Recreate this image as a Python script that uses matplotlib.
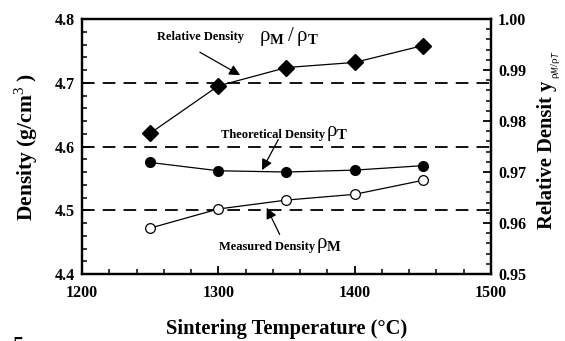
import matplotlib
matplotlib.use("Agg")
import matplotlib.pyplot as plt
from matplotlib.ticker import MultipleLocator

plt.rcParams['font.family'] = ['Liberation Serif', 'DejaVu Serif']
plt.rcParams['mathtext.fontset'] = 'custom'
plt.rcParams['mathtext.rm'] = 'Liberation Serif'
plt.rcParams['mathtext.bf'] = 'Liberation Serif:bold'

# data
temperature = [1250, 1300, 1350, 1400, 1450]
theoretical = [4.575, 4.562, 4.560, 4.563, 4.570]
measured = [4.472, 4.502, 4.516, 4.525, 4.547]
relative = [0.9776, 0.9869, 0.9905, 0.9915, 0.9948]
ref_levels = [4.5, 4.6, 4.7]

fig = plt.figure(figsize=(5.65, 3.41), dpi=100)
ax = fig.add_axes([0.1451, 0.1965, 0.7239, 0.7475])
ax2 = ax.twinx()

for lv in ref_levels:
    ax.axhline(lv, color='black', lw=1.3, ls=(0, (7, 4.5)), zorder=1)

ax.plot(temperature, theoretical, '-o', color='black', lw=0.9, ms=7,
        mfc='black', mec='black', zorder=3)
ax.plot(temperature, measured, '-o', color='black', lw=0.9, ms=7,
        mfc='white', mec='black', mew=0.9, zorder=3)
ax2.plot(temperature, relative, '-D', color='black', lw=0.9, ms=8,
         mfc='black', mec='black', zorder=3)

ax.set_xlim(1200, 1500)
ax.set_ylim(4.4, 4.8)
ax2.set_ylim(0.95, 1.00)

ax.xaxis.set_major_locator(MultipleLocator(100))
ax.xaxis.set_minor_locator(MultipleLocator(20))
ax.yaxis.set_major_locator(MultipleLocator(0.1))
ax.yaxis.set_minor_locator(MultipleLocator(0.02))
ax2.yaxis.set_major_locator(MultipleLocator(0.01))
ax2.yaxis.set_minor_locator(MultipleLocator(0.002))
ax.yaxis.set_major_formatter(matplotlib.ticker.FormatStrFormatter('%.1f'))
ax2.yaxis.set_major_formatter(matplotlib.ticker.FormatStrFormatter('%.2f'))

for a in (ax, ax2):
    for s in a.spines.values():
        s.set_linewidth(1.6)
ax.tick_params(axis='both', which='major', direction='in', length=6, width=1.3,
               labelsize=11.5, pad=5)
ax.tick_params(axis='both', which='minor', direction='in', length=3.5, width=1.1)
ax.tick_params(axis='x', top=False, which='both')
ax.tick_params(axis='x', pad=8)
ax2.tick_params(axis='y', which='major', direction='in', length=6, width=1.3,
                labelsize=11.5, pad=5)
ax2.tick_params(axis='y', which='minor', direction='in', length=3.5, width=1.1)
for lab in ax.get_xticklabels() + ax.get_yticklabels() + ax2.get_yticklabels():
    lab.set_fontweight('bold')

ax.set_xlabel('Sintering Temperature (°C)', fontsize=14.8, fontweight='bold', labelpad=13)
ax.set_ylabel('Density (g/cm$^{3}$ )', fontsize=15.5, fontweight='bold', labelpad=11)

# right-hand label
fig.text(0.968, 0.545, 'Relative Densit y', rotation=90, fontsize=14.8,
         fontweight='bold', ha='center', va='center')
fig.text(0.984, 0.81, r'$\mathrm{ρ}_{M}/\mathrm{ρ}_{T}$', rotation=90,
         fontsize=8, ha='center', va='center')

# annotations
ax.text(1287, 4.772, 'Relative Density', fontsize=9, fontweight='bold',
        ha='center', va='center')
ax.text(1330, 4.773, r'$\mathrm{ρ}_{\mathbf{M}}\,/\,\mathrm{ρ}_{\mathbf{T}}$',
        fontsize=15, ha='left', va='center')
ax.annotate('', xy=(1316, 4.712), xytext=(1286.5, 4.748),
            arrowprops=dict(arrowstyle='-|>', color='black', lw=0.9,
                            mutation_scale=16, shrinkA=0, shrinkB=0))

ax.text(1340, 4.618, 'Theoretical Density', fontsize=9, fontweight='bold',
        ha='center', va='center')
ax.text(1379, 4.620, r'$\mathrm{ρ}_{\mathbf{T}}$', fontsize=15,
        ha='left', va='center')
ax.annotate('', xy=(1332, 4.563), xytext=(1344, 4.611),
            arrowprops=dict(arrowstyle='-|>', color='black', lw=0.9,
                            mutation_scale=16, shrinkA=0, shrinkB=0))

ax.text(1336, 4.442, 'Measured Density', fontsize=9, fontweight='bold',
        ha='center', va='center')
ax.text(1372, 4.444, r'$\mathrm{ρ}_{\mathbf{M}}$', fontsize=15,
        ha='left', va='center')
ax.annotate('', xy=(1335.5, 4.504), xytext=(1345, 4.462),
            arrowprops=dict(arrowstyle='-|>', color='black', lw=0.9,
                            mutation_scale=16, shrinkA=0, shrinkB=0))

# cropped figure number in the corner
fig.text(0.022, -0.045, '5', fontsize=16, fontweight='bold', ha='left', va='bottom')

fig.savefig('out.png', dpi=100)
